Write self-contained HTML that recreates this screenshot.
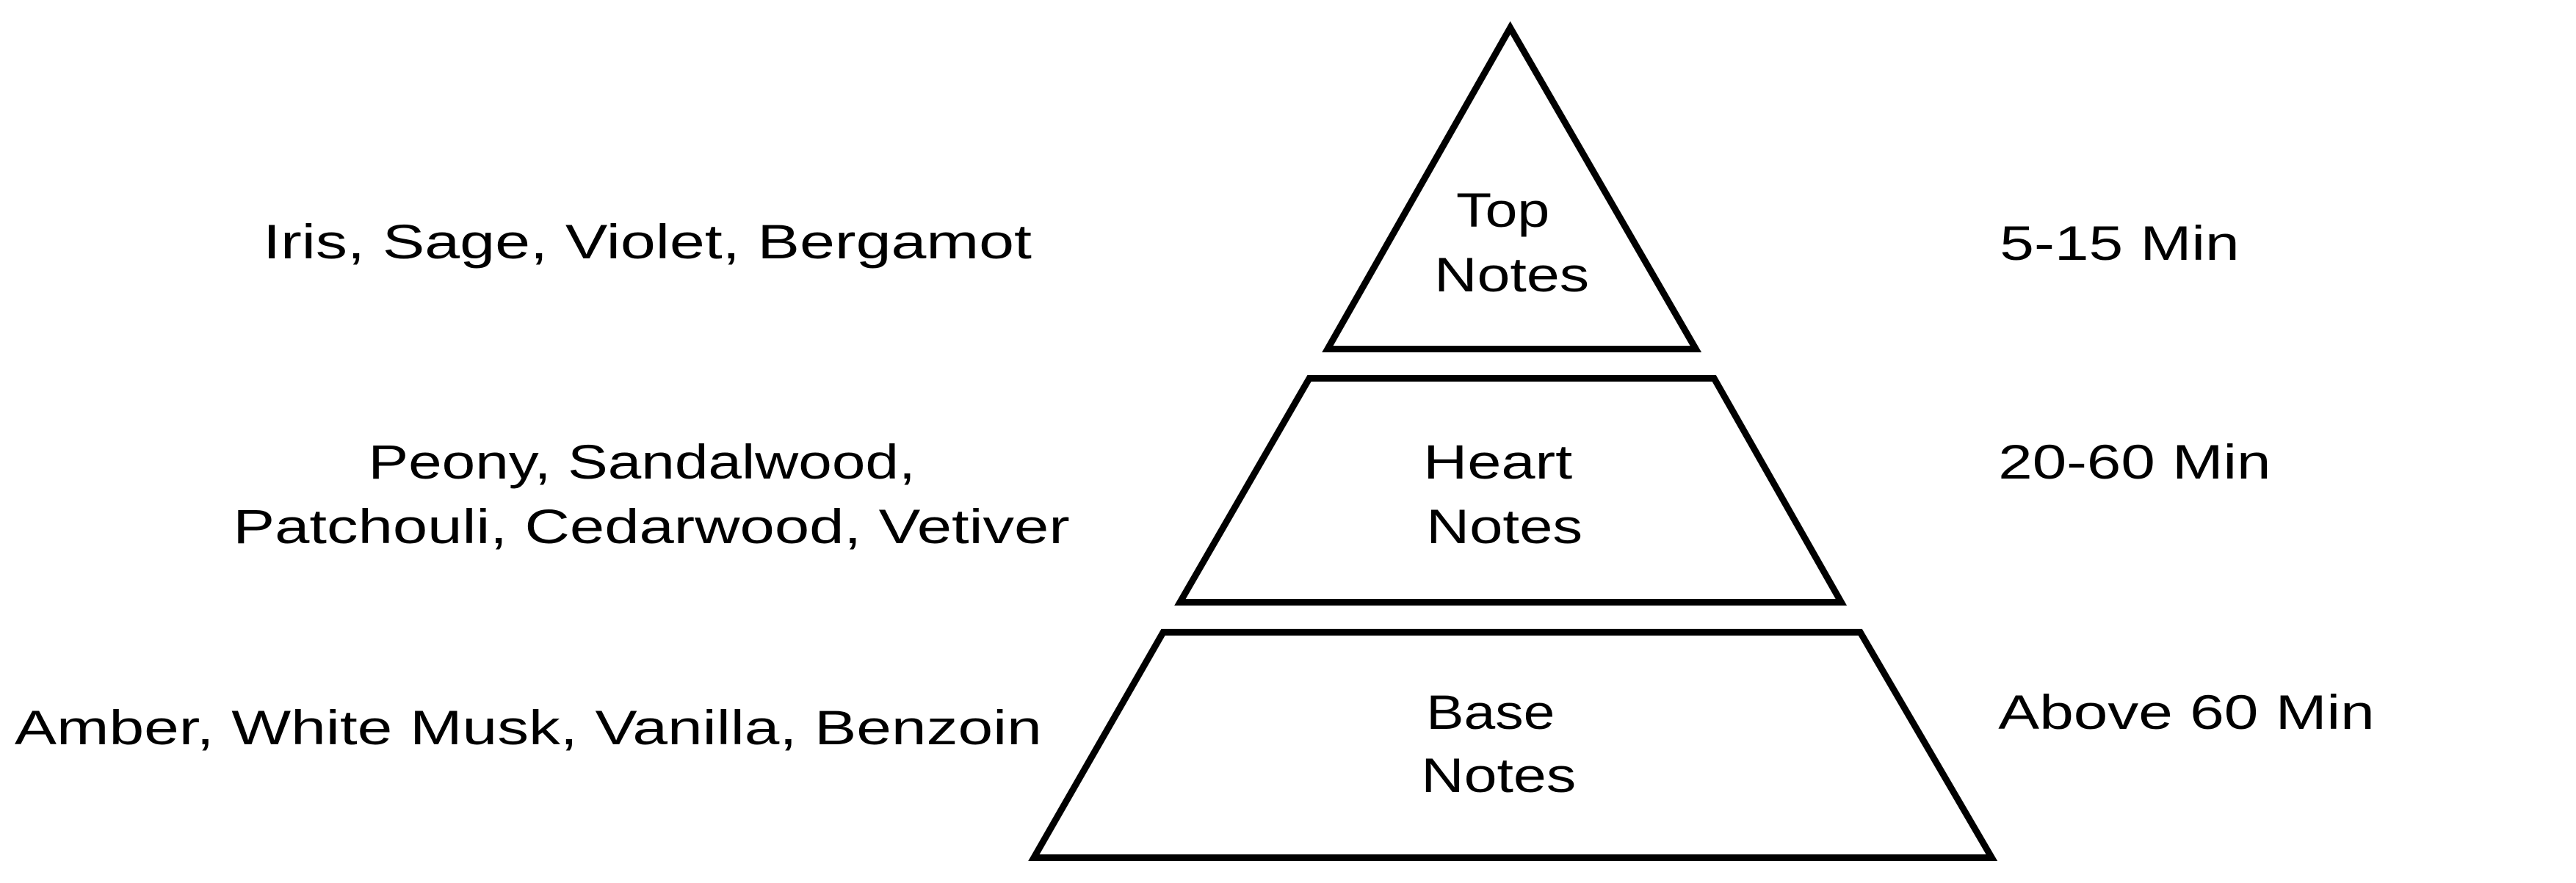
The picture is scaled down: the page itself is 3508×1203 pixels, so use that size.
<!DOCTYPE html>
<html><head><meta charset="utf-8"><style>html,body{margin:0;padding:0;background:#fff;width:3508px;height:1203px;overflow:hidden}</style></head>
<body>
<svg width="3508" height="1203" viewBox="0 0 3508 1203" xmlns="http://www.w3.org/2000/svg">
<g transform="scale(0.995,0.997)">
<g fill="none" stroke="#000" stroke-width="9" stroke-linejoin="miter">
<polygon points="2067,38 2321,477 1817,477"/>
<polygon points="1792,517 2346,517 2520,823 1615,823"/>
<polygon points="1592,864 2546,864 2726,1172 1415,1172"/>
</g>
<g font-family="Liberation Sans, sans-serif" font-size="66" fill="#000">
<text x="360" y="353" textLength="1052" lengthAdjust="spacingAndGlyphs">Iris, Sage, Violet, Bergamot</text>
<text x="504" y="654" textLength="749" lengthAdjust="spacingAndGlyphs">Peony, Sandalwood,</text>
<text x="319" y="742" textLength="1145" lengthAdjust="spacingAndGlyphs">Patchouli, Cedarwood, Vetiver</text>
<text x="20" y="1017" textLength="1406" lengthAdjust="spacingAndGlyphs">Amber, White Musk, Vanilla, Benzoin</text>
<text x="1993" y="310" textLength="128" lengthAdjust="spacingAndGlyphs">Top</text>
<text x="1963" y="398" textLength="212" lengthAdjust="spacingAndGlyphs">Notes</text>
<text x="1948" y="654" textLength="204" lengthAdjust="spacingAndGlyphs">Heart</text>
<text x="1952" y="742" textLength="214" lengthAdjust="spacingAndGlyphs">Notes</text>
<text x="1952" y="996" textLength="176" lengthAdjust="spacingAndGlyphs">Base</text>
<text x="1945" y="1082" textLength="212" lengthAdjust="spacingAndGlyphs">Notes</text>
<text x="2737" y="355" textLength="328" lengthAdjust="spacingAndGlyphs">5-15 Min</text>
<text x="2735" y="654" textLength="373" lengthAdjust="spacingAndGlyphs">20-60 Min</text>
<text x="2735" y="996" textLength="515" lengthAdjust="spacingAndGlyphs">Above 60 Min</text>
</g>
</g>
</svg>
</body></html>
